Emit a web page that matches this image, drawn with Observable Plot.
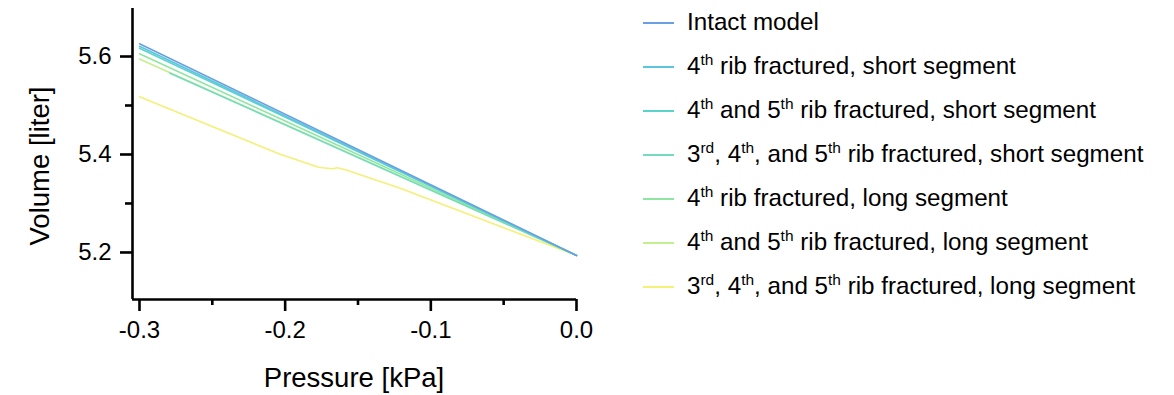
<!DOCTYPE html>
<html>
<head>
<meta charset="utf-8">
<script src="https://cdn.jsdelivr.net/npm/d3@7"></script>
<script src="https://cdn.jsdelivr.net/npm/@observablehq/plot@0.6"></script>
<style>
  body { margin: 0; background: #fff; font-family: "Liberation Sans", Arial, Helvetica, sans-serif; color: #000; }
  #wrap { position: relative; width: 1174px; height: 395px; overflow: hidden; }
  #chart { position: absolute; left: 0; top: 0; }
  .title { position: absolute; font-size: 27.5px; line-height: 28px; white-space: nowrap; }
  #xtitle { left: 354px; top: 364px; transform: translateX(-50%); }
  #ytitle { left: 40px; top: 166px; transform: translate(-50%, -50%) rotate(-90deg); }
  .lg-row { position: absolute; left: 643px; height: 0; }
  .lg-swatch { position: absolute; left: 0; top: -1px; width: 31px; height: 2px; }
  .lg-text { position: absolute; left: 44px; top: -13px; font-size: 24.2px; line-height: 24px; white-space: nowrap; }
  .lg-text sup { font-size: 0.64em; line-height: 0; vertical-align: 0.6em; }
</style>
</head>
<body>
<div id="wrap">
  <div id="chart"></div>
  <div class="title" id="xtitle">Pressure [kPa]</div>
  <div class="title" id="ytitle">Volume [liter]</div>
  <div id="legend"></div>
</div>
<script>
// ---- Data ----
const seriesNames = [
  "Intact model",
  "4th rib fractured, short segment",
  "4th and 5th rib fractured, short segment",
  "3rd, 4th, and 5th rib fractured, short segment",
  "4th rib fractured, long segment",
  "4th and 5th rib fractured, long segment",
  "3rd, 4th, and 5th rib fractured, long segment"
];
const seriesLabelsHTML = [
  "Intact model",
  "4<sup>th</sup> rib fractured, short segment",
  "4<sup>th</sup> and 5<sup>th</sup> rib fractured, short segment",
  "3<sup>rd</sup>, 4<sup>th</sup>, and 5<sup>th</sup> rib fractured, short segment",
  "4<sup>th</sup> rib fractured, long segment",
  "4<sup>th</sup> and 5<sup>th</sup> rib fractured, long segment",
  "3<sup>rd</sup>, 4<sup>th</sup>, and 5<sup>th</sup> rib fractured, long segment"
];
const seriesColors = ["#6a9fe4", "#5bc6dc", "#5ad3cc", "#72dcbc", "#8fe6a0", "#c3ef8e", "#f4f078"];

const pIntact = [-0.3, 0.0];   const vIntact = [5.626, 5.194];
const p4S     = [-0.3, 0.0];   const v4S     = [5.621, 5.194];
const p45S    = [-0.3, 0.0];   const v45S    = [5.617, 5.194];
const p345S   = [-0.279, 0.0]; const v345S   = [5.566, 5.194];
const p4L     = [-0.3, 0.0];   const v4L     = [5.6055, 5.194];
const p45L    = [-0.3, 0.0];   const v45L    = [5.595, 5.194];
const p345L   = [-0.3, -0.203, -0.177, -0.1744, -0.1675, -0.1641, -0.1586, -0.121, 0.0];
const v345L   = [5.518, 5.400, 5.374, 5.373, 5.371, 5.373, 5.369, 5.331, 5.194];

const xMajorTicks = [-0.3, -0.2, -0.1, 0.0];
const xMinorTicks = [-0.25, -0.15, -0.05];
const yMajorTicks = [5.2, 5.4, 5.6];
const yMinorTicks = [5.3, 5.5];
const xDomain = [-0.3048, 0.0];
const yDomain = [5.104, 5.698];

// ---- Build table ----
const seriesP = [pIntact, p4S, p45S, p345S, p4L, p45L, p345L];
const seriesV = [vIntact, v4S, v45S, v345S, v4L, v45L, v345L];
const rows = [];
for (let i = seriesNames.length - 1; i >= 0; i--) {
  seriesP[i].forEach((p, j) => rows.push({name: seriesNames[i], p, v: seriesV[i][j]}));
}

const chart = Plot.plot({
  width: 600,
  height: 395,
  marginLeft: 132,
  marginRight: 24,
  marginTop: 8,
  marginBottom: 96,
  style: {fontFamily: '"Liberation Sans", Arial, sans-serif', fontSize: "24px", color: "#000", background: "transparent", overflow: "visible"},
  x: {domain: xDomain, label: null},
  y: {domain: yDomain, label: null},
  color: {domain: seriesNames, range: seriesColors},
  marks: [
    Plot.line(rows, {x: "p", y: "v", z: "name", stroke: "name", strokeWidth: 1.6}),
    Plot.ruleX([xDomain[0]], {stroke: "#000", strokeWidth: 2.6}),
    Plot.ruleY([yDomain[0]], {stroke: "#000", strokeWidth: 2.6}),
    Plot.axisX({ticks: xMajorTicks, tickSize: 12, tickPadding: 9, tickFormat: d => d.toFixed(1), strokeWidth: 2.6, fontSize: 24, label: null}),
    Plot.axisX({ticks: xMinorTicks, tickSize: 6, tickFormat: () => "", strokeWidth: 2.6, label: null}),
    Plot.axisY({ticks: yMajorTicks, tickSize: 12, tickPadding: 9, tickFormat: d => d.toFixed(1), strokeWidth: 2.6, fontSize: 24, label: null}),
    Plot.axisY({ticks: yMinorTicks, tickSize: 7, tickFormat: () => "", strokeWidth: 2.6, label: null})
  ]
});
document.getElementById("chart").appendChild(chart);

// ---- Legend ----
const legend = document.getElementById("legend");
seriesNames.forEach((name, i) => {
  const row = document.createElement("div");
  row.className = "lg-row";
  row.style.top = (23 + 44 * i) + "px";
  row.innerHTML = `<div class="lg-swatch" style="background:${seriesColors[i]}"></div><div class="lg-text">${seriesLabelsHTML[i]}</div>`;
  legend.appendChild(row);
});
</script>
</body>
</html>
